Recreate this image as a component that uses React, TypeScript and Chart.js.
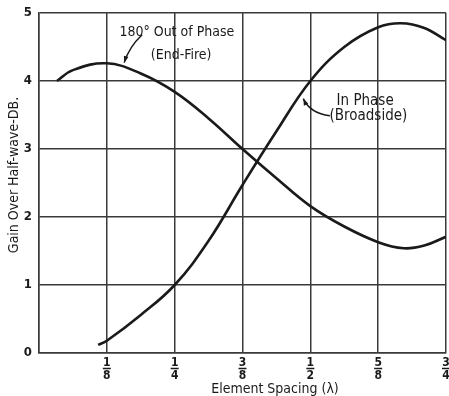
import React, { useEffect, useRef } from "react";
import { Chart, registerables } from "chart.js";

Chart.register(...registerables);

// Element spacing (wavelengths) and gain (dB) for each curve
const endFireX = [0.033, 0.0625, 0.125, 0.1875, 0.25, 0.3125, 0.375, 0.4375, 0.5, 0.5625, 0.625, 0.672, 0.71, 0.75];
const endFireY = [4.0, 4.16, 4.26, 4.11, 3.84, 3.45, 3.0, 2.57, 2.16, 1.86, 1.63, 1.54, 1.58, 1.71];

const broadsideX = [0.109, 0.125, 0.1875, 0.25, 0.3125, 0.375, 0.4375, 0.5, 0.5625, 0.625, 0.667, 0.71, 0.75];
const broadsideY = [0.12, 0.18, 0.56, 1.0, 1.65, 2.47, 3.26, 4.0, 4.5, 4.79, 4.85, 4.78, 4.6];

const xTickValues = [0.125, 0.25, 0.375, 0.5, 0.625, 0.75];
const xTickNumerators = ["1", "1", "3", "1", "5", "3"];
const xTickDenominators = ["8", "4", "8", "2", "8", "4"];

const yTitle = "Gain Over Half-wave-DB.";
const xTitle = "Element Spacing (\u03bb)";
const endFireLabel = ["180\u00b0 Out of Phase", "(End-Fire)"];
const broadsideLabel = ["In Phase", "(Broadside)"];

const FONT = "'Liberation Sans Narrow', 'DejaVu Sans Condensed', sans-serif";
const INK = "#1a1a1a";

const annotationPlugin = {
  id: "annotations",
  afterDraw(chart: any) {
    const { ctx, scales, chartArea } = chart;
    const xs = scales.x;
    const ys = scales.y;
    const px = (v: number) => xs.getPixelForValue(v);
    const py = (v: number) => ys.getPixelForValue(v);
    ctx.save();
    ctx.fillStyle = INK;
    ctx.strokeStyle = INK;

    // fraction bars under tick numerators
    ctx.lineWidth = 1.5;
    xTickValues.forEach((v) => {
      const x = px(v);
      ctx.beginPath();
      ctx.moveTo(x - 4, chartArea.bottom + 15.5);
      ctx.lineTo(x + 4, chartArea.bottom + 15.5);
      ctx.stroke();
    });

    // curve labels
    ctx.font = `14px ${FONT}`;
    ctx.textAlign = "center";
    ctx.textBaseline = "alphabetic";
    ctx.fillText(endFireLabel[0], px(0.254), py(4.66));
    ctx.fillText(endFireLabel[1], px(0.262), py(4.32));
    ctx.font = `15px ${FONT}`;
    ctx.fillText(broadsideLabel[0], px(0.601), py(3.64));
    ctx.fillText(broadsideLabel[1], px(0.607), py(3.42));

    // arrows
    const arrow = (sx: number, sy: number, cx: number, cy: number, ex: number, ey: number) => {
      const x0 = px(sx), y0 = py(sy), x1 = px(cx), y1 = py(cy), x2 = px(ex), y2 = py(ey);
      ctx.lineWidth = 1.5;
      ctx.beginPath();
      ctx.moveTo(x0, y0);
      ctx.quadraticCurveTo(x1, y1, x2, y2);
      ctx.stroke();
      const ang = Math.atan2(y2 - y1, x2 - x1);
      const L = 7;
      ctx.beginPath();
      ctx.moveTo(x2, y2);
      ctx.lineTo(x2 - L * Math.cos(ang - 0.35), y2 - L * Math.sin(ang - 0.35));
      ctx.lineTo(x2 - L * Math.cos(ang + 0.35), y2 - L * Math.sin(ang + 0.35));
      ctx.closePath();
      ctx.fill();
    };
    arrow(0.19, 4.68, 0.166, 4.5, 0.157, 4.27);
    arrow(0.536, 3.49, 0.5, 3.52, 0.487, 3.74);

    // axis titles
    ctx.font = `14px ${FONT}`;
    ctx.textAlign = "center";
    ctx.textBaseline = "middle";
    ctx.fillText(xTitle, 275, 389);
    ctx.translate(14, 175);
    ctx.rotate(-Math.PI / 2);
    ctx.fillText(yTitle, 0, 0);
    ctx.restore();
  },
};

export default function App() {
  const ref = useRef<HTMLCanvasElement>(null);
  useEffect(() => {
    document.body.style.margin = "0";
    const chart = new Chart(ref.current as HTMLCanvasElement, {
      type: "line",
      data: {
        datasets: [
          {
            label: "180\u00b0 Out of Phase (End-Fire)",
            data: endFireX.map((x, i) => ({ x, y: endFireY[i] })),
            borderColor: INK,
            borderWidth: 2.6,
            pointRadius: 0,
            tension: 0.4,
            fill: false,
          },
          {
            label: "In Phase (Broadside)",
            data: broadsideX.map((x, i) => ({ x, y: broadsideY[i] })),
            borderColor: INK,
            borderWidth: 2.6,
            pointRadius: 0,
            tension: 0.4,
            fill: false,
          },
        ],
      },
      options: {
        animation: false,
        responsive: true,
        maintainAspectRatio: false,
        layout: { padding: { top: 13, right: 3, left: 0, bottom: 0 } },
        plugins: { legend: { display: false }, tooltip: { enabled: false } },
        scales: {
          x: {
            type: "linear",
            min: 0,
            max: 0.75,
            afterFit: (s: any) => { s.height = 43; s.paddingRight = 0; s.paddingLeft = 0; },
            afterBuildTicks: (s: any) => {
              s.ticks = [0, ...xTickValues].map((v) => ({ value: v }));
            },
            grid: { color: "#3a3a3a", lineWidth: 1.5, drawTicks: false },
            border: { color: "#3a3a3a", width: 1.5 },
            ticks: {
              padding: 3,
              maxRotation: 0,
              autoSkip: false,
              color: INK,
              font: { family: FONT, size: 12, weight: "bold", lineHeight: "13px" },
              callback: (v: any) => {
                const i = xTickValues.indexOf(Number(v));
                return i < 0 ? "" : [xTickNumerators[i], xTickDenominators[i]];
              },
            },
          },
          y: {
            min: 0,
            max: 5,
            afterFit: (s: any) => { s.width = 39; s.paddingTop = 0; s.paddingBottom = 0; },
            grid: { color: "#3a3a3a", lineWidth: 1.5, drawTicks: false },
            border: { color: "#3a3a3a", width: 1.5 },
            ticks: {
              stepSize: 1,
              padding: 7,
              color: INK,
              font: { family: FONT, size: 13, weight: "bold" },
            },
          },
        },
      },
      plugins: [annotationPlugin],
    } as any);
    return () => chart.destroy();
  }, []);
  return (
    <div style={{ position: "relative", width: 449, height: 396 }}>
      <canvas ref={ref} />
    </div>
  );
}
